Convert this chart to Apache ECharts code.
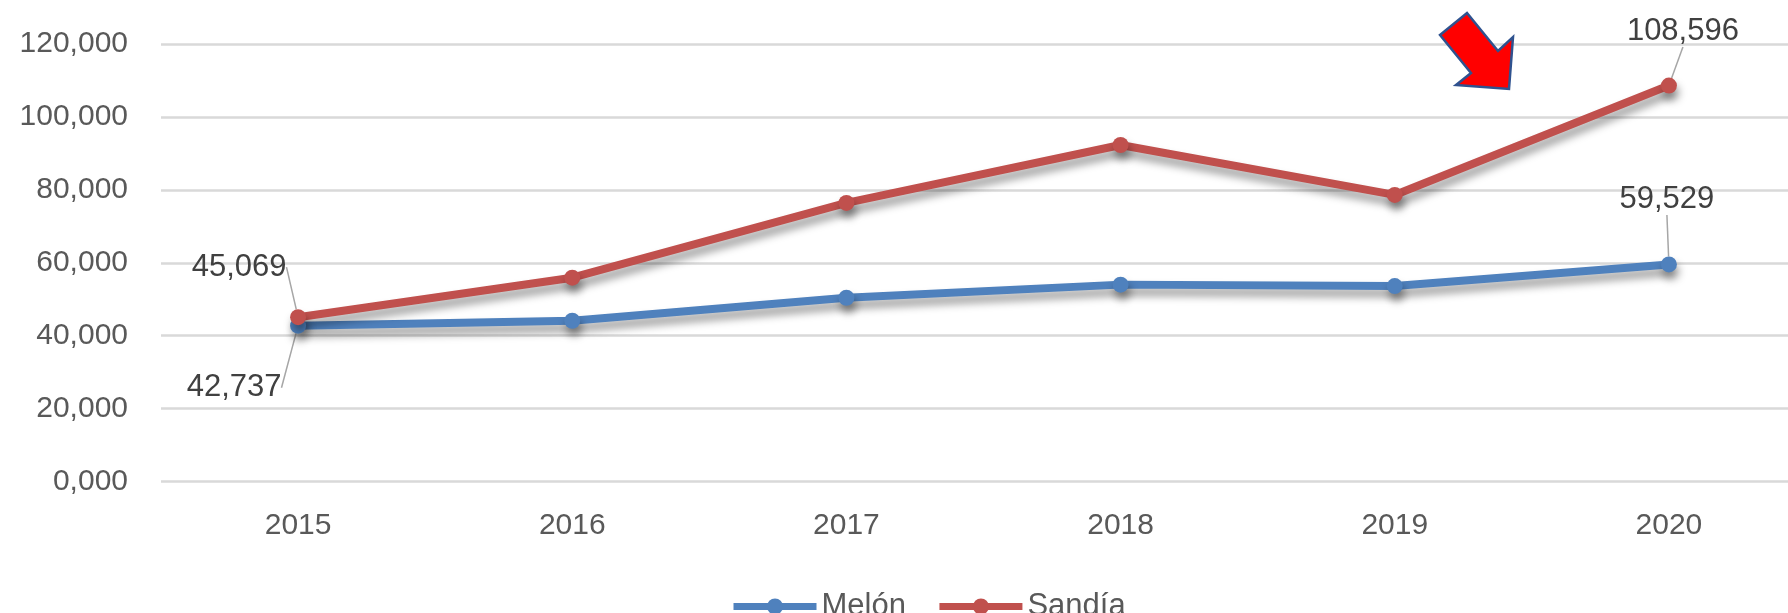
<!DOCTYPE html>
<html>
<head>
<meta charset="utf-8">
<title>Melón / Sandía</title>
<script src="https://cdn.jsdelivr.net/npm/echarts@6/dist/echarts.min.js"></script>
<style>
  html, body { margin: 0; padding: 0; background: #fff; }
  #chart { width: 1788px; height: 613px; }
</style>
</head>
<body>
<div id="chart"></div>
<script>
const years = ['2015', '2016', '2017', '2018', '2019', '2020']
const melon = [42737, 44100, 50400, 54000, 53600, 59529]
const sandia = [45069, 55900, 76400, 92300, 78600, 108596]
const yTickLabels = ['0,000', '20,000', '40,000', '60,000', '80,000', '100,000', '120,000']
// which points carry a data label
const labelled = [0, 5]

const FONT = 'Liberation Sans'
const BLUE = '#4F81BD'
const RED = '#C0504D'

// label offsets (dx, dy) from the point, per series
const offsets = {
  'Melón': { 0: [-64, 62], 5: [-2, -65] },
  'Sandía': { 0: [-59, -50], 5: [14, -54] }
}

function toData(values) {
  return values.map((v, i) => {
    if (labelled.indexOf(i) < 0) return v
    return { value: v, label: { show: true } }
  })
}

function initSeries(name, values, color) {
  const shadow = {
    shadowColor: 'rgba(0,0,0,0.4)',
    shadowBlur: 9,
    shadowOffsetX: 2,
    shadowOffsetY: 7
  }
  return {
    name,
    type: 'line',
    data: toData(values),
    symbol: 'circle',
    symbolSize: 16,
    lineStyle: Object.assign({ width: 8, color }, shadow),
    itemStyle: Object.assign({ color }, shadow),
    label: {
      show: false,
      position: 'inside',
      fontFamily: FONT,
      fontSize: 31,
      color: '#404040',
      formatter: p => p.value.toLocaleString('en-US')
    },
    labelLine: {
      show: true,
      lineStyle: { color: '#A6A6A6', width: 1.5 }
    },
    labelLayout: function (params) {
      const o = offsets[name][params.dataIndex]
      if (!o) return {}
      return { dx: o[0], dy: o[1] }
    },
    emphasis: { disabled: true }
  }
}

const chart = echarts.init(document.getElementById('chart'))

const option = {
  animation: false,
  grid: {
    left: 161,
    width: 1645,
    top: 44,
    bottom: 131.5,
    outerBoundsMode: 'none'
  },
  legend: {
    left: 730,
    top: 591,
    padding: 0,
    itemWidth: 83,
    itemHeight: 20,
    itemGap: 30,
    lineStyle: { width: 7 },
    textStyle: { fontFamily: FONT, fontSize: 31, color: '#595959' },
    data: ['Melón', 'Sandía']
  },
  xAxis: {
    type: 'category',
    data: years,
    axisLine: { show: false },
    axisTick: { show: false },
    axisLabel: {
      margin: 29,
      fontFamily: FONT,
      fontSize: 30,
      color: '#595959'
    }
  },
  yAxis: {
    type: 'value',
    min: 0,
    max: 120000,
    interval: 20000,
    axisLine: { show: false },
    axisTick: { show: false },
    axisLabel: {
      margin: 33,
      fontFamily: FONT,
      fontSize: 30,
      color: '#595959',
      formatter: (v, i) => yTickLabels[i]
    },
    splitLine: {
      lineStyle: { color: '#D9D9D9', width: 2.5 }
    }
  },
  graphic: [{
    type: 'polygon',
    z: 100,
    shape: {
      points: [[1440, 35], [1467, 13], [1498, 51], [1513, 37], [1509, 89], [1456, 85], [1471, 73]]
    },
    style: { fill: '#FF0000', stroke: '#2F528F', lineWidth: 2.5 }
  }],
  series: [
    initSeries('Melón', melon, BLUE),
    initSeries('Sandía', sandia, RED)
  ]
}

chart.setOption(option)
</script>
</body>
</html>
